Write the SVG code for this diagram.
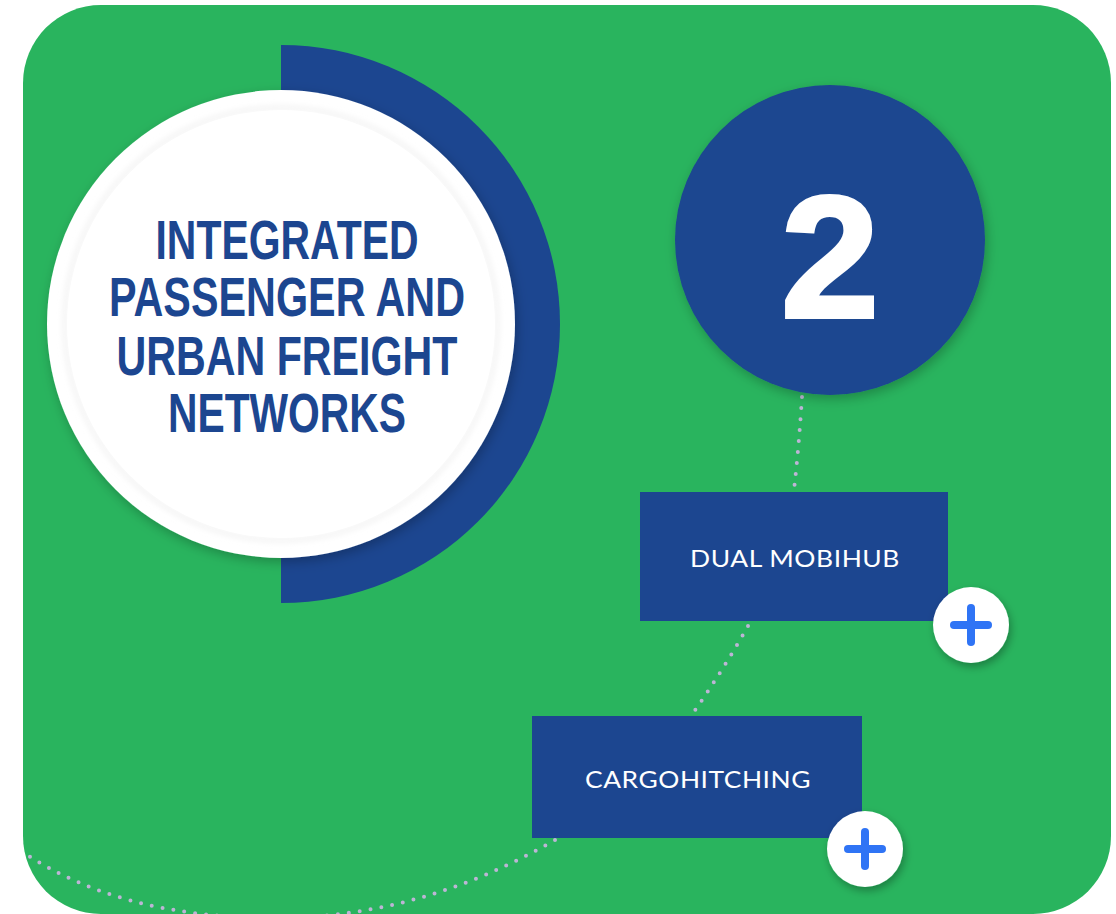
<svg xmlns="http://www.w3.org/2000/svg" width="1116" height="914" viewBox="0 0 1116 914">
<style>
.title{font-family:"Liberation Sans",Arial,sans-serif;font-weight:bold;font-size:48px;fill:#1c4690;text-anchor:middle}
.lbl{font-family:"Lato","Liberation Sans",sans-serif;font-size:24px;fill:#ffffff;text-anchor:middle;letter-spacing:0.5px}
.box{fill:#1c4690}
.dots{fill:none;stroke:#bdb5d6;stroke-width:4;stroke-linecap:round;stroke-dasharray:0 11}
.plus{stroke:#2f74f5;stroke-width:8;stroke-linecap:round}
</style>
<defs>
<clipPath id="bgclip"><rect x="23" y="5" width="1088" height="909" rx="78"/></clipPath>
<filter id="sh" x="-20%" y="-20%" width="140%" height="140%"><feDropShadow dx="2" dy="4" stdDeviation="6" flood-color="#000" flood-opacity="0.25"/></filter>
<filter id="shs" x="-40%" y="-40%" width="180%" height="180%"><feDropShadow dx="2" dy="4" stdDeviation="4" flood-color="#000" flood-opacity="0.3"/></filter>
<filter id="inner" x="-10%" y="-10%" width="120%" height="120%"><feGaussianBlur stdDeviation="3"/></filter>
</defs>
<rect x="23" y="5" width="1088" height="909" rx="78" fill="#29b45e"/>
<g id="connectors" clip-path="url(#bgclip)">
<path class="dots" d="M802 397 Q799 445 794 490"/>
<path class="dots" d="M748 626 Q722 672 691 716"/>
<path class="dots" d="M555 840 Q420 918 275 918 Q120 918 23 852"/>
</g>
<g id="main">
<path d="M281 45 A279 279 0 0 1 281 603 Z" fill="#1c4690"/>
<circle cx="281" cy="324" r="234" fill="#ffffff" filter="url(#sh)"/>
<circle cx="281" cy="324" r="216" fill="none" stroke="#ebebeb" stroke-width="3" filter="url(#inner)"/>
<circle cx="281" cy="324" r="214" fill="#ffffff"/>
<text class="title" transform="translate(287 259) scale(1 1.15)" x="0" y="0" textLength="263" lengthAdjust="spacingAndGlyphs">INTEGRATED</text>
<text class="title" transform="translate(287 316) scale(1 1.15)" x="0" y="0" textLength="356" lengthAdjust="spacingAndGlyphs">PASSENGER AND</text>
<text class="title" transform="translate(287 375) scale(1 1.15)" x="0" y="0" textLength="341" lengthAdjust="spacingAndGlyphs">URBAN FREIGHT</text>
<text class="title" transform="translate(287 432) scale(1 1.15)" x="0" y="0" textLength="238" lengthAdjust="spacingAndGlyphs">NETWORKS</text>
</g>
<g id="number">
<circle cx="830" cy="240" r="155" fill="#1c4690" filter="url(#sh)"/>
<text x="830" y="317" font-family="Liberation Sans,Arial,sans-serif" font-weight="bold" font-size="172" fill="#ffffff" stroke="#ffffff" stroke-width="4" text-anchor="middle" textLength="98" lengthAdjust="spacingAndGlyphs">2</text>
</g>
<g id="dual-mobihub">
<rect class="box" x="640" y="492" width="308" height="129"/>
<text class="lbl" x="795" y="567" textLength="210" lengthAdjust="spacingAndGlyphs">DUAL MOBIHUB</text>
<circle cx="971" cy="625" r="38" fill="#ffffff" filter="url(#shs)"/>
<line class="plus" x1="954" y1="625" x2="988" y2="625"/>
<line class="plus" x1="971" y1="608" x2="971" y2="642"/>
</g>
<g id="cargohitching">
<rect class="box" x="532" y="716" width="330" height="122"/>
<text class="lbl" x="698" y="788" textLength="226" lengthAdjust="spacingAndGlyphs">CARGOHITCHING</text>
<circle cx="865" cy="849" r="38" fill="#ffffff" filter="url(#shs)"/>
<line class="plus" x1="848" y1="849" x2="882" y2="849"/>
<line class="plus" x1="865" y1="832" x2="865" y2="866"/>
</g>
</svg>
